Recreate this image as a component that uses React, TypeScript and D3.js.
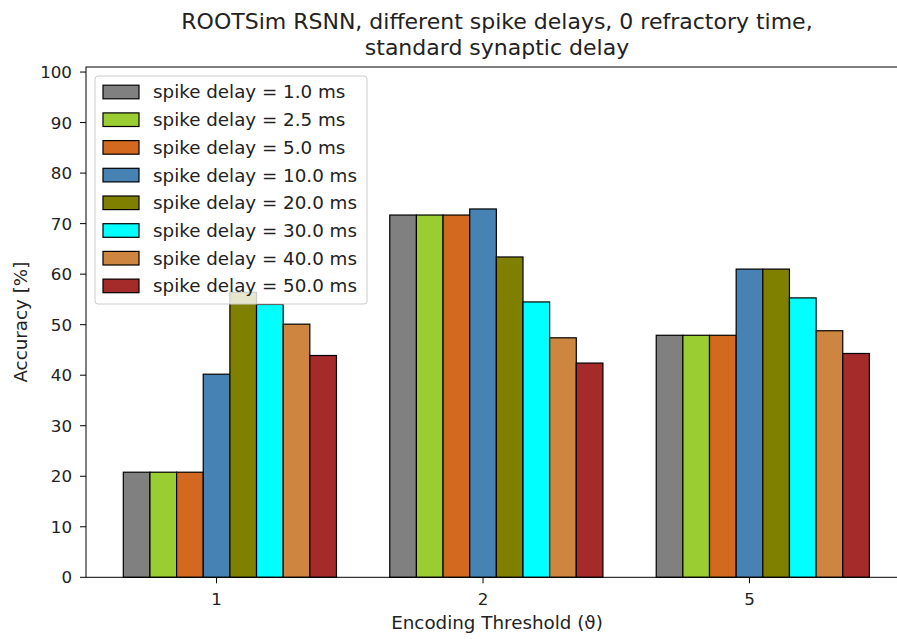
import React from "react";
import * as d3 from "d3";

const thresholds = ["1", "2", "5"];
const delayLabels = [
  "spike delay = 1.0 ms",
  "spike delay = 2.5 ms",
  "spike delay = 5.0 ms",
  "spike delay = 10.0 ms",
  "spike delay = 20.0 ms",
  "spike delay = 30.0 ms",
  "spike delay = 40.0 ms",
  "spike delay = 50.0 ms",
];
const colors = ["#808080", "#9acd32", "#d2691e", "#4682b4", "#808000", "#00ffff", "#cd853f", "#a52a2a"];
const delay1 = [20.8, 71.7, 47.9];
const delay2_5 = [20.8, 71.7, 47.9];
const delay5 = [20.8, 71.7, 47.9];
const delay10 = [40.2, 72.9, 61.0];
const delay20 = [56.4, 63.4, 61.0];
const delay30 = [54.0, 54.5, 55.3];
const delay40 = [50.1, 47.4, 48.8];
const delay50 = [43.9, 42.4, 44.3];
const series = [delay1, delay2_5, delay5, delay10, delay20, delay30, delay40, delay50];
const yTicks = [0, 10, 20, 30, 40, 50, 60, 70, 80, 90, 100];

const W = 897, H = 639;
const left = 86, right = 906.7, top = 67, bottom = 577.3;
const barW = 0.1;

export default function App() {
  const x = d3.scaleLinear().domain([-0.49, 2.59]).range([left, right]);
  const y = d3.scaleLinear().domain([0, 101]).range([bottom, top]);
  const font = "DejaVu Sans, sans-serif";
  const tickFs = 16.7;
  const labFs = 18.3;
  const cx = 497;
  return (
    <svg width={W} height={H} style={{ position: "absolute", left: 0, top: 0, background: "#fff" }} fontFamily={font}>
      <rect x={0} y={0} width={W} height={H} fill="#fff" />
      {series.map((vals, j) =>
        vals.map((v, i) => {
          const x0 = x(i + (j - 3) * barW - barW / 2);
          const x1 = x(i + (j - 3) * barW + barW / 2);
          return (
            <rect key={`${j}-${i}`} x={x0} y={y(v)} width={x1 - x0} height={y(0) - y(v)}
              fill={colors[j]} stroke="#000" strokeWidth={1.2} />
          );
        })
      )}
      <rect x={left} y={top} width={right - left} height={bottom - top} fill="none" stroke="#000" strokeWidth={1} />
      {yTicks.map((t) => (
        <g key={t}>
          <line x1={left - 6} x2={left} y1={y(t)} y2={y(t)} stroke="#000" strokeWidth={1} />
          <text x={left - 14} y={y(t)} dy="0.36em" textAnchor="end" fontSize={tickFs} fill="#222">{t}</text>
        </g>
      ))}
      {thresholds.map((t, i) => (
        <g key={t}>
          <line x1={x(i)} x2={x(i)} y1={bottom} y2={bottom + 6} stroke="#000" strokeWidth={1} />
          <text x={x(i)} y={605} textAnchor="middle" fontSize={tickFs} fill="#222">{t}</text>
        </g>
      ))}
      <text x={cx} y={629} textAnchor="middle" fontSize={labFs} fill="#222">Encoding Threshold (ϑ)</text>
      <text transform={`translate(27,${(top + bottom) / 2}) rotate(-90)`} textAnchor="middle" fontSize={labFs} fill="#222">Accuracy [%]</text>
      <text x={cx} y={29} textAnchor="middle" fontSize={22} fill="#222">ROOTSim RSNN, different spike delays, 0 refractory time,</text>
      <text x={cx} y={55} textAnchor="middle" fontSize={22} fill="#222">standard synaptic delay</text>
      <rect x={95} y={76} width={272} height={228} rx={3} fill="#fff" fillOpacity={0.8} stroke="#cccccc" strokeWidth={1} />
      {delayLabels.map((lab, j) => {
        const cy = 92 + j * 27.7;
        return (
          <g key={lab}>
            <rect x={103} y={cy - 6.8} width={36} height={13.6} fill={colors[j]} stroke="#000" strokeWidth={1.2} />
            <text x={153} y={cy} dy="0.35em" fontSize={labFs} fill="#222">{lab}</text>
          </g>
        );
      })}
    </svg>
  );
}
